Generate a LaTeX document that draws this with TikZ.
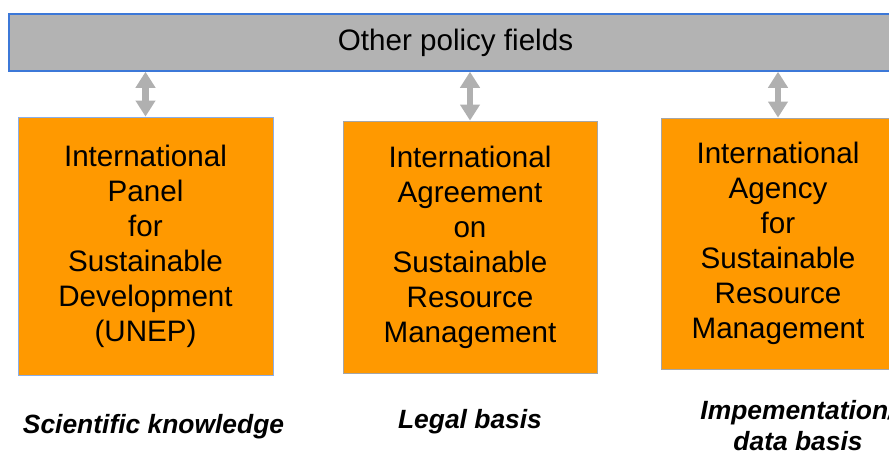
\documentclass[tikz,border=0pt]{standalone}
\usepackage{fontspec}
\setmainfont{Liberation Sans}
\usetikzlibrary{arrows.meta}
\definecolor{barfill}{HTML}{B3B3B3}
\definecolor{barline}{HTML}{3C78D8}
\definecolor{orgfill}{HTML}{FF9900}
\definecolor{linkgray}{HTML}{B0B0B0}
\tikzset{
  orgbox/.style={draw=#1, line width=0.8pt, fill=orgfill, inner sep=0pt, align=center,
    font=\fontsize{29.6}{35}\selectfont},
  linkarrow/.style={draw=linkgray, line width=6.5pt,
    {Triangle[width=19pt,length=16pt]}-{Triangle[width=19pt,length=16pt]}},
  caption/.style={font=\fontsize{26.4}{31}\selectfont\bfseries\itshape, inner sep=0pt, align=center}
}
\begin{document}
\begin{tikzpicture}[x=1pt,y=-1pt]
\useasboundingbox (0,0) rectangle (889,461);

\node[draw=barline, line width=1.5pt, fill=barfill, minimum width=893pt, minimum height=57pt,
  font=\fontsize{29.6}{35}\selectfont] (bar) at (455.5,42.5) {Other policy fields};

\node[orgbox=barline!60, minimum width=255pt, minimum height=258pt] (panel) at (145.5,246)
  {International\\Panel\\for\\Sustainable\\Development\\(UNEP)};
\node[orgbox=gray!70, minimum width=254pt, minimum height=252pt] (agreement) at (470,247)
  {International\\Agreement\\on\\Sustainable\\Resource\\Management};
\node[orgbox=gray!70, minimum width=234pt, minimum height=251pt] (agency) at (778,243.5)
  {International\\Agency\\for\\Sustainable\\Resource\\Management};

\draw[linkarrow] (bar.south -| panel.north) -- (panel.north);
\draw[linkarrow] (bar.south -| agreement.north) -- (agreement.north);
\draw[linkarrow] (bar.south -| agency.north) -- (agency.north);

\node[caption, anchor=base] (science) at (153.5,433) {Scientific knowledge};
\node[caption, anchor=base] (legal) at (470,428) {Legal basis};
\node[caption] (implement) at (798,426) {Impementation/\\data basis};
\end{tikzpicture}
\end{document}
